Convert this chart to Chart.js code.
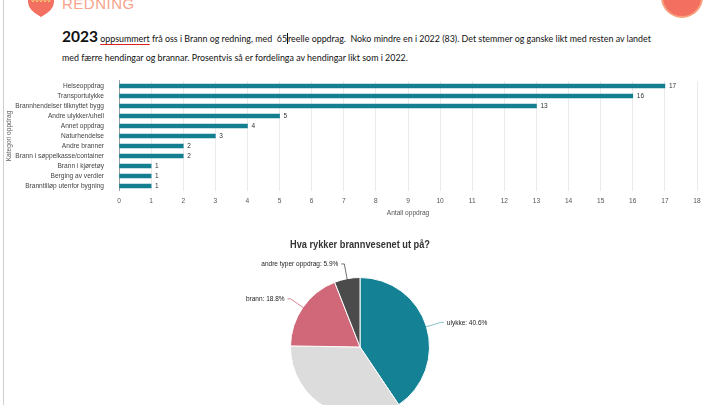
<!DOCTYPE html>
<html>
<head>
<meta charset="utf-8">
<script src="https://cdn.jsdelivr.net/npm/chart.js@4.4.0/dist/chart.umd.min.js"></script>
<style>
  html, body { margin: 0; padding: 0; }
  body { width: 720px; height: 405px; overflow: hidden; background: #fff; position: relative; font-family: Lato, "Liberation Sans", sans-serif; }
  .edge { position: absolute; left: 3px; top: 0; width: 1px; height: 405px; background: #cfcfcf; }
  .redning { position: absolute; left: 62px; top: -5px; font-family: "Liberation Sans", sans-serif; font-size: 15px; color: #f6a48c; letter-spacing: 0.5px; }
  .heart { position: absolute; left: 26px; top: -6px; }
  .badge { position: absolute; left: 661px; top: -24px; width: 42px; height: 42px; border-radius: 50%; background: #f36f5f; border: 2px solid #f7a07e; box-sizing: border-box; }
  .intro { position: absolute; left: 62px; top: 27px; width: 640px; color: #111; font-size: 8.9px; line-height: 19px; }
  .intro b { font-size: 15.5px; font-weight: 700; }
  .intro u { text-decoration: underline #e02020; text-decoration-thickness: 1px; text-underline-offset: 2px; }
  .cursor { border-left: 1px solid #111; }
  #bars { position: absolute; left: 0; top: 70px; }
  #pie { position: absolute; left: 200px; top: 230px; }
</style>
</head>
<body>
<div class="edge"></div>
<svg class="heart" width="30" height="24" viewBox="0 0 30 24">
  <path d="M2 0 L28 0 L28 8 Q28 16 15 23 Q2 16 2 8 Z" fill="#f36f5f"/>
  <path d="M5 5 l2 3 l2 -3 l2 3 l2 -3 l2 3 l2 -3 l2 3 l2 -3 l2 3 l2 -3" stroke="#f7d27a" stroke-width="1" fill="none"/>
</svg>
<div class="redning">REDNING</div>
<div class="badge"></div>
<div class="intro"><b>2023</b> <u>oppsummert</u> frå oss i Brann og redning, med &nbsp;65<span class="cursor"></span>reelle oppdrag.&nbsp; Noko mindre en i 2022 (83). Det stemmer og ganske likt med resten av landet<br>med færre hendingar og brannar. Prosentvis så er fordelinga av hendingar likt som i 2022.</div>
<canvas id="bars" width="720" height="150"></canvas>
<canvas id="pie" width="320" height="187"></canvas>
<script>
const categories = ['Helseoppdrag', 'Transportulykke', 'Brannhendelser tilknyttet bygg', 'Andre ulykker/uhell',
  'Annet oppdrag', 'Naturhendelse', 'Andre branner', 'Brann i søppelkasse/container',
  'Brann i kjøretøy', 'Berging av verdier', 'Branntilløp utenfor bygning'];
const counts = [17, 16, 13, 5, 4, 3, 2, 2, 1, 1, 1];
const xTicks = [0, 18];

const pieLabels = ['ulykke', 'helse', 'brann', 'andre typer oppdrag'];
const pieValues = [41, 35, 19, 6];
const pieColors = ['#148294', '#dcdcdc', '#d06879', '#4b4b4b'];

const tickFont = { family: 'Liberation Sans', size: 6.6 };

const valueLabels = {
  id: 'valueLabels',
  afterDatasetsDraw(chart) {
    const ctx = chart.ctx;
    const meta = chart.getDatasetMeta(0);
    ctx.save();
    ctx.font = '6.5px "Liberation Sans"';
    ctx.fillStyle = '#333';
    ctx.textBaseline = 'middle';
    meta.data.forEach((bar, i) => {
      ctx.fillText(String(counts[i]), bar.x + 4, bar.y + 0.5);
    });
    ctx.restore();
  }
};

new Chart(document.getElementById('bars'), {
  type: 'bar',
  data: {
    labels: categories,
    datasets: [{
      label: 'Antall oppdrag',
      data: counts,
      backgroundColor: '#137f91',
      barThickness: 4
    }]
  },
  options: {
    indexAxis: 'y',
    responsive: false,
    animation: false,
    layout: { padding: { top: 9, right: 23 } },
    plugins: { legend: { display: false }, tooltip: { enabled: false } },
    scales: {
      x: {
        min: xTicks[0],
        max: xTicks[1],
        ticks: { stepSize: 1, font: tickFont, color: '#555', padding: 6 },
        grid: { color: '#ebebeb', drawTicks: false },
        border: { display: false },
        title: { display: true, text: 'Antall oppdrag', font: tickFont, color: '#555', padding: { top: 2, bottom: 3 } },
        afterFit(scale) { scale.height = 29; }
      },
      y: {
        ticks: { font: tickFont, color: '#444', padding: 7, autoSkip: false },
        grid: { display: false },
        border: { display: true, color: '#a0a0a0' },
        title: { display: true, text: 'Kategori oppdrag', font: tickFont, color: '#666', padding: { top: 5, bottom: 0 } },
        afterFit(scale) { scale.width = 119; }
      }
    }
  },
  plugins: [valueLabels]
});

const pieCallouts = {
  id: 'pieCallouts',
  afterDatasetsDraw(chart) {
    const ctx = chart.ctx;
    const meta = chart.getDatasetMeta(0);
    const total = pieValues.reduce((a, b) => a + b, 0);
    ctx.save();
    ctx.font = '6.5px "Liberation Sans"';
    ctx.textBaseline = 'middle';
    meta.data.forEach((arc, i) => {
      const mid = (arc.startAngle + arc.endAngle) / 2;
      const r = arc.outerRadius;
      const x0 = arc.x + Math.cos(mid) * (r - 1);
      const y0 = arc.y + Math.sin(mid) * (r - 1);
      const x1 = arc.x + Math.cos(mid) * (r + 15);
      const y1 = arc.y + Math.sin(mid) * (r + 15);
      const right = Math.cos(mid) >= 0;
      const x2 = x1 + (right ? 3 : -3);
      ctx.strokeStyle = i === 0 ? '#6fb3bf' : pieColors[i];
      ctx.lineWidth = 0.8;
      ctx.beginPath();
      ctx.moveTo(x0, y0);
      ctx.lineTo(x1, y1);
      ctx.lineTo(x2, y1);
      ctx.stroke();
      const pct = (pieValues[i] / total * 100).toFixed(1);
      ctx.fillStyle = '#222';
      ctx.textAlign = right ? 'left' : 'right';
      ctx.fillText(pieLabels[i] + ': ' + pct + '%', x2 + (right ? 3 : -3), y1 + 0.5);
    });
    ctx.restore();
  }
};

new Chart(document.getElementById('pie'), {
  type: 'pie',
  data: {
    labels: pieLabels,
    datasets: [{
      data: pieValues,
      backgroundColor: pieColors,
      borderColor: '#fff',
      borderWidth: 1
    }]
  },
  options: {
    responsive: false,
    animation: false,
    layout: { padding: { left: 90, right: 90, top: 0, bottom: 0 } },
    plugins: {
      legend: { display: false },
      tooltip: { enabled: false },
      title: {
        display: true,
        text: 'Hva rykker brannvesenet ut på?',
        color: '#333',
        font: { family: 'Liberation Sans', size: 10, weight: 'bold' },
        padding: { top: 9, bottom: 26 }
      }
    }
  },
  plugins: [pieCallouts]
});
</script>
</body>
</html>
